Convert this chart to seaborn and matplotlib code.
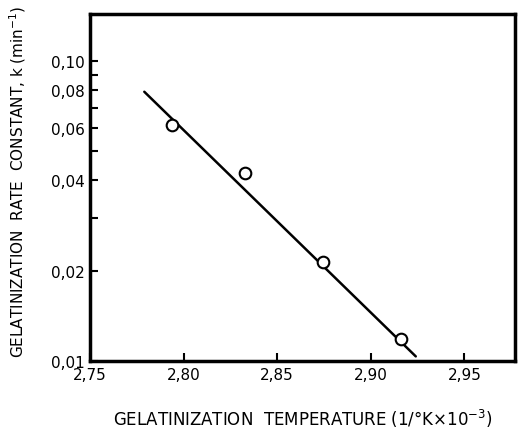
import numpy as np
import matplotlib
matplotlib.use("Agg")
import matplotlib.pyplot as plt
import matplotlib.ticker as mticker
import seaborn as sns

# data
temp_inv = [2.794, 2.833, 2.8745, 2.916]
rate_k = [0.0612, 0.0423, 0.0214, 0.0118]

# fitted line end points
fit_x = [2.779, 2.924]
fit_k = [0.0790, 0.01036]

x_ticks = [2.75, 2.80, 2.85, 2.90, 2.95]
y_major = [0.01, 0.02, 0.04, 0.06, 0.08, 0.10]
y_minor = [0.03, 0.05, 0.07, 0.09]

sns.set_style("ticks")
plt.rcParams['font.family'] = ['DejaVu Sans']
plt.rcParams['text.color'] = 'black'
plt.rcParams['axes.labelcolor'] = 'black'

fig = plt.figure(figsize=(5.21, 4.35), dpi=100)
ax = fig.add_axes([90 / 521, 1 - 362 / 435, 425 / 521, 347 / 435])

sns.lineplot(x=fit_x, y=fit_k, ax=ax, color="black", linewidth=1.8)
sns.scatterplot(x=temp_inv, y=rate_k, ax=ax, s=70, facecolor="white",
                edgecolor="black", linewidth=1.5, zorder=3)

ax.set_yscale("log")
ax.set_xlim(2.75, 2.977)
ax.set_ylim(0.01, 0.1435)

ax.set_xticks(x_ticks)
ax.set_xticklabels([f"{v:.2f}".replace(".", ",") for v in x_ticks])
ax.yaxis.set_major_locator(mticker.FixedLocator(y_major))
ax.yaxis.set_minor_locator(mticker.FixedLocator(y_minor))
ax.yaxis.set_major_formatter(mticker.FixedFormatter([f"{v:.2f}".replace(".", ",") for v in y_major]))
ax.yaxis.set_minor_formatter(mticker.NullFormatter())

ax.tick_params(axis="both", which="both", direction="in", length=6, width=1.5,
               labelsize=11, colors="black")
ax.tick_params(axis="x", pad=4)

for sp in ax.spines.values():
    sp.set_linewidth(2.5)
    sp.set_color("black")

ax.set_xlabel("GELATINIZATION  TEMPERATURE (1/°K×10$^{-3}$)", fontsize=12, labelpad=18)
ax.set_ylabel("GELATINIZATION  RATE  CONSTANT, k (min$^{-1}$)", fontsize=11, labelpad=8)
ax.yaxis.set_label_coords(-0.145, 0.52)

fig.savefig("out.png", dpi=100)
